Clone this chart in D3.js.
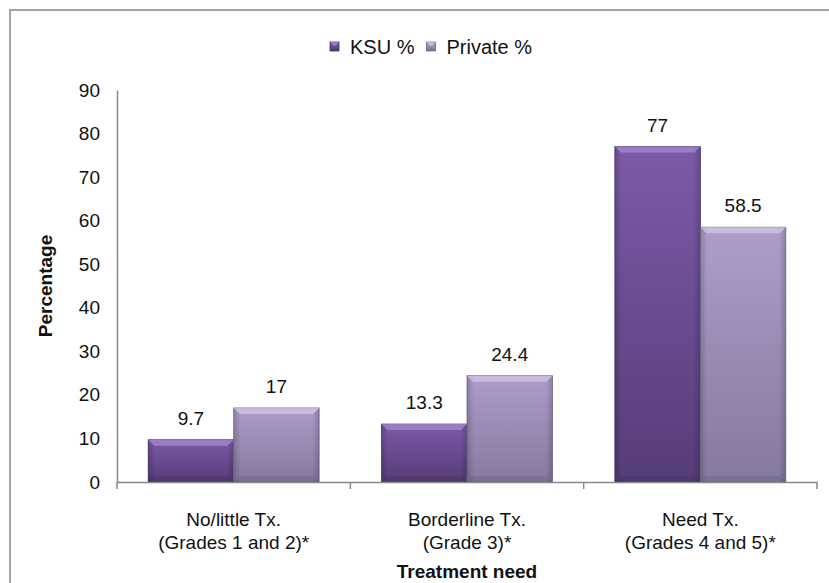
<!DOCTYPE html>
<html>
<head>
<meta charset="utf-8">
<script src="https://cdn.jsdelivr.net/npm/d3@7"></script>
<style>
  html, body { margin: 0; padding: 0; background: #fff; }
  svg { display: block; font-family: "Liberation Sans", Arial, sans-serif; }
</style>
</head>
<body>
<svg id="chart" width="829" height="583"></svg>
<script>
// ---- data ----
const categories = ["No/little Tx.|(Grades 1 and 2)*", "Borderline Tx.|(Grade 3)*", "Need Tx.|(Grades 4 and 5)*"];
const seriesNames = ["KSU %", "Private %"];
const ksuValues = [9.7, 13.3, 77];
const privateValues = [17, 24.4, 58.5];
const yTicks = [0, 10, 20, 30, 40, 50, 60, 70, 80, 90];
const yTitle = "Percentage";
const xTitle = "Treatment need";

const seriesValues = [ksuValues, privateValues];

const svg = d3.select("#chart");
const defs = svg.append("defs");

// gradients
const palettes = [
  { id: "g0", top: "#7c5aa8", bot: "#553d78", hi: "#a68ad0", edge: "#4a336a" },
  { id: "g1", top: "#ad9dca", bot: "#86799f", hi: "#d2c6e6", edge: "#7a6d92" }
];
palettes.forEach(p => {
  const g = defs.append("linearGradient").attr("id", p.id).attr("x1", 0).attr("y1", 0).attr("x2", 0).attr("y2", 1);
  g.append("stop").attr("offset", "0%").attr("stop-color", p.top);
  g.append("stop").attr("offset", "100%").attr("stop-color", p.bot);
  const s = defs.append("linearGradient").attr("id", p.id + "s").attr("x1", 0).attr("y1", 0).attr("x2", 1).attr("y2", 0);
  s.append("stop").attr("offset", "0%").attr("stop-color", "#000").attr("stop-opacity", 0.18);
  s.append("stop").attr("offset", "8%").attr("stop-color", "#000").attr("stop-opacity", 0);
  s.append("stop").attr("offset", "92%").attr("stop-color", "#000").attr("stop-opacity", 0);
  s.append("stop").attr("offset", "100%").attr("stop-color", "#000").attr("stop-opacity", 0.18);
});

// frame (only left/top visible)
svg.append("rect").attr("x", 10).attr("y", 10).attr("width", 1000).attr("height", 1000)
  .attr("fill", "none").attr("stroke", "#a5a5a5").attr("stroke-width", 2);

// scales
const x0 = 117, x1 = 817, yTop = 90, yBase = 482;
const y = d3.scaleLinear().domain([0, 90]).range([yBase, yTop]);
const xCat = d3.scaleBand().domain(categories).range([x0, x1]).padding(0);
const xSer = d3.scaleBand().domain(seriesNames).range([0, xCat.bandwidth()]).paddingInner(0).paddingOuter(0.365);

// bars
const bars = [];
categories.forEach((c, ci) => {
  seriesNames.forEach((s, si) => {
    bars.push({ c, s, si, v: seriesValues[si][ci] });
  });
});

const bg = svg.append("g");
const bar = bg.selectAll("g.bar").data(bars).enter().append("g").attr("class", "bar");
function bevel(sel, x, yv, w, h, p) {
  sel.append("rect").attr("x", x).attr("y", yv).attr("width", w).attr("height", h)
    .attr("fill", `url(#${p.id})`).attr("stroke", p.edge).attr("stroke-width", 0.8);
  sel.append("rect").attr("x", x).attr("y", yv).attr("width", w).attr("height", h)
    .attr("fill", `url(#${p.id}s)`);
  const b = Math.min(6, h / 2);
  sel.append("path").attr("d", `M${x},${yv} L${x + w},${yv} L${x + w - b},${yv + b} L${x + b},${yv + b} Z`)
    .attr("fill", p.hi).attr("opacity", 0.75);
  sel.append("path").attr("d", `M${x},${yv + h} L${x + w},${yv + h} L${x + w - b},${yv + h - b} L${x + b},${yv + h - b} Z`)
    .attr("fill", "#000").attr("opacity", 0.08);
}
bar.each(function(d) {
  const bx = xCat(d.c) + xSer(d.s);
  const by = y(d.v);
  bevel(d3.select(this), bx, by, xSer.bandwidth(), yBase - by, palettes[d.si]);
});

// value labels
svg.append("g").selectAll("text").data(bars).enter().append("text")
  .attr("x", d => xCat(d.c) + xSer(d.s) + xSer.bandwidth() / 2)
  .attr("y", d => y(d.v) - 15)
  .attr("text-anchor", "middle")
  .attr("font-size", 19)
  .attr("fill", "#111")
  .text(d => String(d.v));

// y axis
const yAxis = d3.axisLeft(y).tickValues(yTicks).tickSize(0).tickPadding(17);
const yg = svg.append("g").attr("transform", `translate(${x0},0)`).call(yAxis);
yg.select(".domain").attr("stroke", "#898989").attr("stroke-width", 1.5);
yg.selectAll("text").attr("font-size", 19).attr("fill", "#111").attr("font-family", "Liberation Sans, Arial, sans-serif");

// x axis
const xAxis = d3.axisBottom(xCat).tickSize(0).tickFormat(() => "");
const xg = svg.append("g").attr("transform", `translate(0,${yBase})`).call(xAxis);
xg.select(".domain").attr("stroke", "#898989").attr("stroke-width", 1.5);
xg.selectAll(".tick").remove();
const bounds = [x0].concat(categories.map(c => xCat(c) + xCat.bandwidth()));
xg.selectAll("line.sep").data(bounds).enter().append("line")
  .attr("x1", d => d).attr("x2", d => d).attr("y1", 0).attr("y2", 7)
  .attr("stroke", "#898989").attr("stroke-width", 1.5);

// category labels
const cl = svg.append("g").selectAll("text").data(categories).enter().append("text")
  .attr("text-anchor", "middle").attr("font-size", 19).attr("fill", "#111");
cl.each(function(c) {
  const parts = c.split("|");
  const t = d3.select(this);
  parts.forEach((p, i) => {
    t.append("tspan").attr("x", xCat(c) + xCat.bandwidth() / 2).attr("y", 526 + i * 23).text(p);
  });
});

// axis titles
svg.append("text").attr("x", 467).attr("y", 578).attr("text-anchor", "middle")
  .attr("font-size", 19).attr("font-weight", "bold").attr("fill", "#111").text(xTitle);
svg.append("text").attr("transform", `translate(52,${(yTop + yBase) / 2}) rotate(-90)`)
  .attr("text-anchor", "middle").attr("font-size", 19).attr("font-weight", "bold").attr("fill", "#111").text(yTitle);

// legend
const lg = svg.append("g");
let lx = 330;
seriesNames.forEach((s, i) => {
  const g = lg.append("g");
  bevel(g, lx, 42, 9, 9, palettes[i]);
  const t = g.append("text").attr("x", lx + 20).attr("y", 54).attr("font-size", 20).attr("fill", "#111").text(s);
  lx += 20 + t.node().getComputedTextLength() + 12;
});
</script>
</body>
</html>
